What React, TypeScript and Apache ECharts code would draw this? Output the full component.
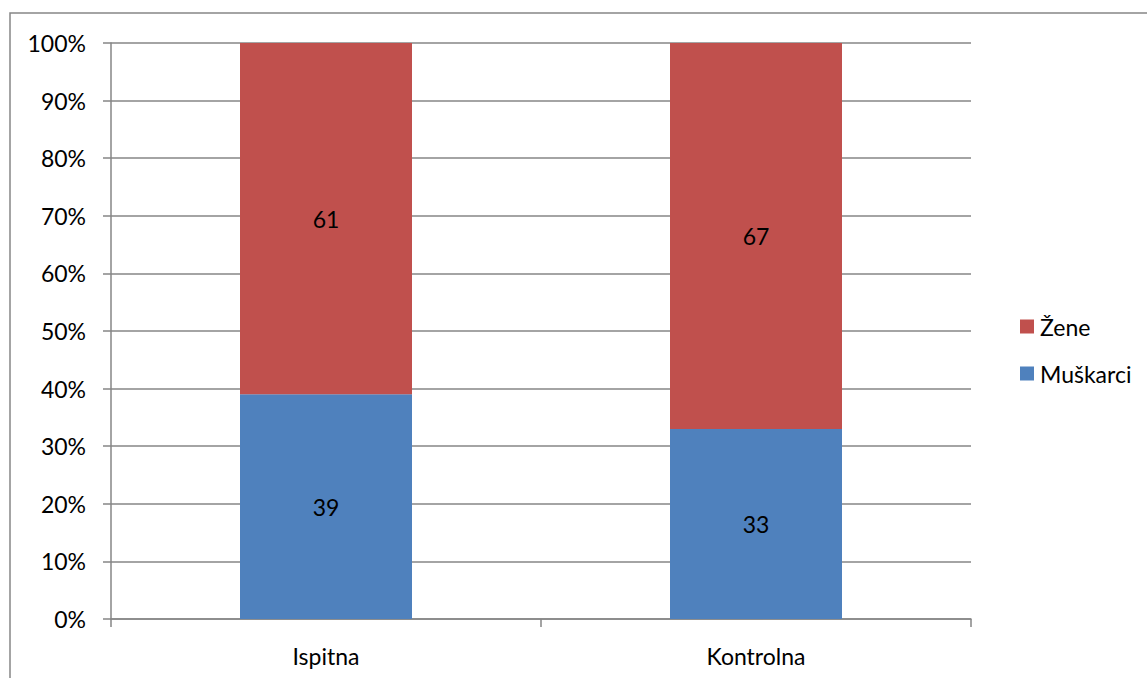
import React, { useEffect, useRef } from "react";
import * as echarts from "echarts";

const categories = ["Ispitna", "Kontrolna"];
const muskarci = [39, 33];
const zene = [61, 67];
const yTicks = [0, 10, 20, 30, 40, 50, 60, 70, 80, 90, 100];

const FONT = "Lato, 'Open Sans', sans-serif";
const GRAY = "#868686";
const FS = 23;

export default function App() {
  const ref = useRef<HTMLDivElement>(null);
  useEffect(() => {
    document.body.style.margin = "0";
    const chart = echarts.init(ref.current!, null, { renderer: "svg" });
    chart.setOption({
      animation: false,
      backgroundColor: "#ffffff",
      textStyle: { fontFamily: FONT },
      graphic: [
        {
          type: "rect",
          shape: { x: 10, y: 13, width: 1200, height: 720 },
          style: { fill: "none", stroke: GRAY, lineWidth: 1.5 },
          silent: true,
        },
      ],
      grid: { left: 111, top: 43, right: 176, bottom: 59, containLabel: false },
      legend: {
        orient: "vertical",
        left: 1015,
        top: 310,
        icon: "rect",
        itemWidth: 14,
        itemHeight: 14,
        itemGap: 24,
        data: ["Žene", "Muškarci"],
        textStyle: { fontFamily: FONT, fontSize: FS, color: "#000", padding: [0, 0, 0, 1] },
      },
      xAxis: {
        type: "category",
        data: categories,
        axisLine: { lineStyle: { color: GRAY, width: 1.5 } },
        axisTick: { show: true, length: 8, alignWithLabel: false, lineStyle: { color: GRAY, width: 1.5 } },
        axisLabel: { fontFamily: FONT, fontSize: FS, color: "#000", margin: 25 },
      },
      yAxis: {
        type: "value",
        min: yTicks[0],
        max: yTicks[yTicks.length - 1],
        interval: 10,
        axisLine: { show: true, lineStyle: { color: GRAY, width: 1.5 } },
        axisTick: { show: true, length: 8, lineStyle: { color: GRAY, width: 1.5 } },
        splitLine: { show: true, lineStyle: { color: GRAY, width: 1.5 } },
        axisLabel: { fontFamily: FONT, fontSize: FS, color: "#000", margin: 25, formatter: "{value}%" },
      },
      series: [
        {
          name: "Muškarci",
          type: "bar",
          stack: "total",
          barWidth: "40%",
          data: muskarci,
          itemStyle: { color: "#4F81BD" },
          label: { show: true, position: "inside", color: "#000", fontFamily: FONT, fontSize: FS },
        },
        {
          name: "Žene",
          type: "bar",
          stack: "total",
          barWidth: "40%",
          data: zene,
          itemStyle: { color: "#C0504D" },
          label: { show: true, position: "inside", color: "#000", fontFamily: FONT, fontSize: FS },
        },
      ],
    });
    return () => chart.dispose();
  }, []);
  return <div ref={ref} style={{ width: 1147, height: 678, position: "absolute", left: 0, top: 0 }} />;
}
